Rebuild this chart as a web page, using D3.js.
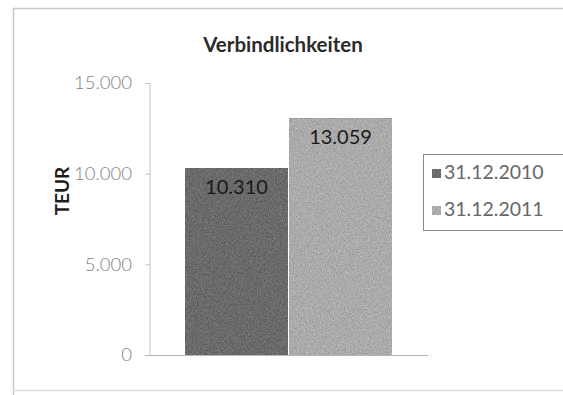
<!DOCTYPE html>
<html>
<head>
<meta charset="utf-8">
<script src="https://cdn.jsdelivr.net/npm/d3@7"></script>
<style>
  html, body { margin: 0; padding: 0; background: #fff; }
  svg { display: block; font-family: Lato, "Open Sans", sans-serif; }
</style>
</head>
<body>
<svg id="chart" width="563" height="395"></svg>
<script>
// Liabilities at year end, in thousand EUR
const categories = ["31.12.2010", "31.12.2011"];
const values = [10310, 13059];
const barColors = ["#6b6b6b", "#ababab"];
const yTicks = [0, 5000, 10000, 15000];
const title = "Verbindlichkeiten";
const yTitle = "TEUR";

const svg = d3.select("#chart");
const fmt = d3.formatLocale({ decimal: ",", thousands: ".", grouping: [3], currency: ["", "€"] }).format(",.0f");

// speckled texture for the bars
const defs = svg.append("defs");
const grain = defs.append("filter").attr("id", "grain").attr("x", 0).attr("y", 0).attr("width", 1).attr("height", 1)
  .attr("color-interpolation-filters", "sRGB");
grain.append("feTurbulence").attr("type", "fractalNoise").attr("baseFrequency", 0.75).attr("numOctaves", 2).attr("seed", 5).attr("result", "noise");
grain.append("feColorMatrix").attr("in", "noise").attr("type", "matrix")
  .attr("values", "0.33 0.33 0.33 0 0  0.33 0.33 0.33 0 0  0.33 0.33 0.33 0 0  0 0 0 0 1").attr("result", "gray");
grain.append("feComposite").attr("in", "SourceGraphic").attr("in2", "gray").attr("operator", "arithmetic")
  .attr("k1", 0).attr("k2", 1).attr("k3", 0.55).attr("k4", -0.275).attr("result", "mixed");
grain.append("feComposite").attr("in", "mixed").attr("in2", "SourceGraphic").attr("operator", "in");

// outer frame
svg.append("path").attr("d", "M13.5,395 V8.5 H563").attr("fill", "none").attr("stroke", "#c8c8c8").attr("stroke-width", 1.5);
svg.append("line").attr("x1", 13).attr("x2", 563).attr("y1", 390.5).attr("y2", 390.5).attr("stroke", "#dcdcdc").attr("stroke-width", 1.5);

const plot = { left: 148, right: 428, top: 83, bottom: 355 };

const x = d3.scaleBand().domain(categories).range([185, 392]).paddingInner(0.01).paddingOuter(0);
const y = d3.scaleLinear().domain([0, 15000]).range([plot.bottom, plot.top]);

// y axis
const yAxis = svg.append("g").attr("transform", `translate(${plot.left + 2},0)`)
  .call(d3.axisLeft(y).tickValues(yTicks).tickFormat(fmt).tickSize(5).tickPadding(13));
yAxis.select(".domain").attr("stroke", "#c4c4c4").attr("d", `M0,${plot.top}V${plot.bottom}`);
yAxis.selectAll(".tick line").attr("stroke", "#c4c4c4");
yAxis.selectAll(".tick text").attr("fill", "#808080").attr("font-size", 18.5).attr("font-weight", 300).attr("font-family", "Lato, sans-serif");

// bars
svg.append("g").selectAll("rect").data(values).join("rect")
  .attr("x", (d, i) => x(categories[i]))
  .attr("y", d => y(d))
  .attr("width", x.bandwidth())
  .attr("height", d => y(0) - y(d))
  .attr("fill", (d, i) => barColors[i])
  .attr("filter", "url(#grain)");

// x axis baseline
svg.append("line").attr("x1", plot.left - 2).attr("x2", plot.right).attr("y1", y(0) + 0.5).attr("y2", y(0) + 0.5)
  .attr("stroke", "#b5b5b5").attr("stroke-width", 1.2);

// value labels
svg.append("g").selectAll("text").data(values).join("text")
  .attr("x", (d, i) => x(categories[i]) + x.bandwidth() / 2)
  .attr("y", d => y(d) + 26)
  .attr("text-anchor", "middle")
  .attr("font-size", 20)
  .attr("fill", "#1a1a1a")
  .text(d => fmt(d));

// title
svg.append("text").attr("x", 283).attr("y", 52).attr("text-anchor", "middle")
  .attr("font-size", 20.5).attr("font-weight", "bold").attr("fill", "#2a2a2a").text(title);

// y axis title
svg.append("text").attr("transform", "translate(69,191) rotate(-90)").attr("text-anchor", "middle")
  .attr("font-size", 19).attr("font-weight", "bold").attr("fill", "#1e1e1e").text(yTitle);

// legend
const legend = svg.append("g");
legend.append("rect").attr("x", 423.5).attr("y", 154.5).attr("width", 140).attr("height", 76)
  .attr("fill", "#fff").attr("stroke", "#8a8a8a").attr("stroke-width", 1);
const item = legend.selectAll("g.item").data(categories).join("g").attr("class", "item")
  .attr("transform", (d, i) => `translate(432,${175 + i * 37})`);
item.append("rect").attr("x", 0).attr("y", -6).attr("width", 9).attr("height", 9)
  .attr("fill", (d, i) => barColors[i]).attr("filter", "url(#grain)");
item.append("text").attr("x", 12).attr("y", 4).attr("font-size", 19.5).attr("fill", "#666").text(d => d);
</script>
</body>
</html>
